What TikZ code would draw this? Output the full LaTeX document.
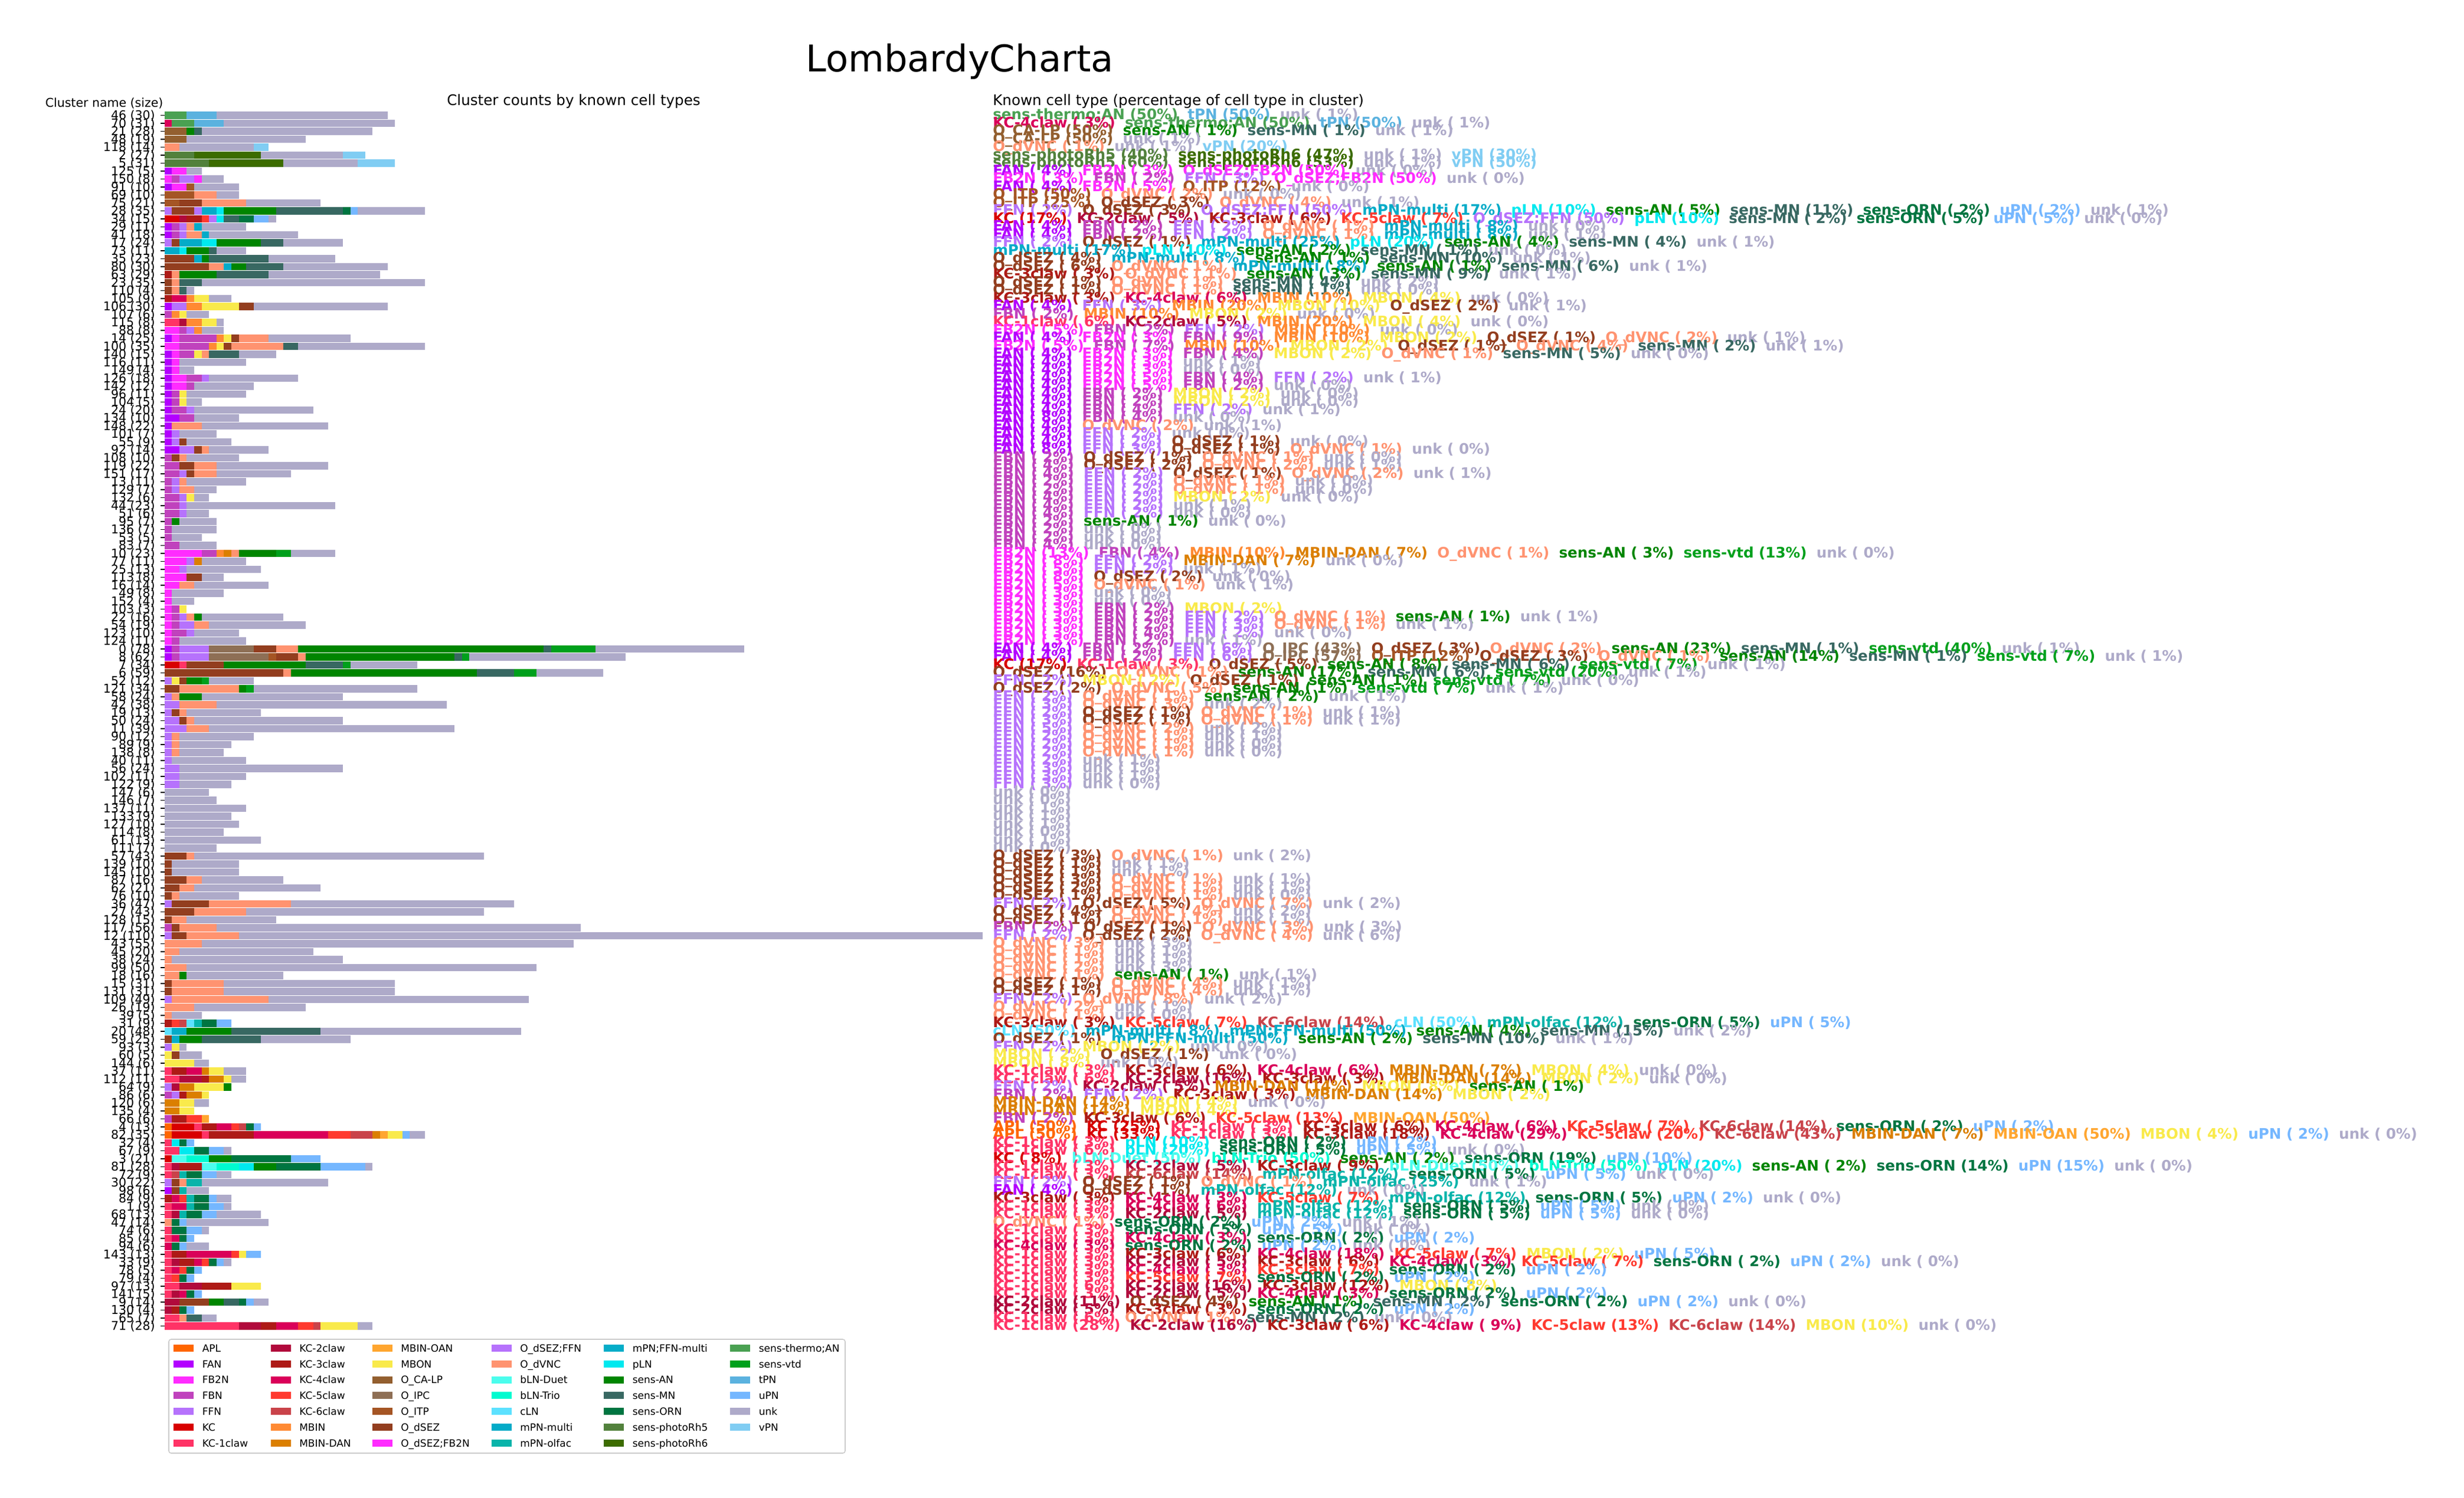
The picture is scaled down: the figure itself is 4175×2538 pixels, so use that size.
\documentclass[tikz,border=0pt]{standalone}
\usepackage{fontspec}
\setmainfont{DejaVu Sans}
\usepackage{xcolor}
\definecolor{cAPL}{HTML}{FF6600}
\definecolor{cFAN}{HTML}{B300FF}
\definecolor{cFBtN}{HTML}{FF2CFF}
\definecolor{cFBN}{HTML}{C042BD}
\definecolor{cFFN}{HTML}{B672FC}
\definecolor{cKC}{HTML}{D80000}
\definecolor{cKCa}{HTML}{FF3366}
\definecolor{cKCb}{HTML}{B10A3C}
\definecolor{cKCc}{HTML}{AE1A16}
\definecolor{cKCd}{HTML}{DA0059}
\definecolor{cKCe}{HTML}{FF3A2F}
\definecolor{cKCf}{HTML}{C9434A}
\definecolor{cMBIN}{HTML}{FF8A33}
\definecolor{cMBD}{HTML}{DB7F00}
\definecolor{cMBO}{HTML}{FFA630}
\definecolor{cMBON}{HTML}{F9EA4B}
\definecolor{cOCA}{HTML}{935F2F}
\definecolor{cOIPC}{HTML}{8E6F55}
\definecolor{cOITP}{HTML}{A55524}
\definecolor{cOdS}{HTML}{933E1F}
\definecolor{cOdSFB}{HTML}{FF2CFF}
\definecolor{cOdSFF}{HTML}{B672FC}
\definecolor{cOdV}{HTML}{FF9370}
\definecolor{cbLD}{HTML}{4BFDED}
\definecolor{cbLT}{HTML}{00FBD0}
\definecolor{ccLN}{HTML}{5CE1FF}
\definecolor{cmPNm}{HTML}{04ABC8}
\definecolor{cmPNo}{HTML}{08B4AA}
\definecolor{cmPNF}{HTML}{06ADC8}
\definecolor{cpLN}{HTML}{00E9EF}
\definecolor{csAN}{HTML}{008500}
\definecolor{csMN}{HTML}{386862}
\definecolor{csORN}{HTML}{007541}
\definecolor{csRa}{HTML}{52813C}
\definecolor{csRb}{HTML}{3C6C00}
\definecolor{csTh}{HTML}{4AA152}
\definecolor{csvtd}{HTML}{00A01C}
\definecolor{ctPN}{HTML}{5BB2DF}
\definecolor{cuPN}{HTML}{75B7FF}
\definecolor{cunk}{HTML}{AEAAC9}
\definecolor{cvPN}{HTML}{80CDF3}
\newcommand\E[3]{\textcolor{c#1}{#2 (#3\%)}\hspace{0.66em}}
\newcommand\qAPL[1]{\E{APL}{APL}{#1}}
\newcommand\qFAN[1]{\E{FAN}{FAN}{#1}}
\newcommand\qFBtN[1]{\E{FBtN}{FB2N}{#1}}
\newcommand\qFBN[1]{\E{FBN}{FBN}{#1}}
\newcommand\qFFN[1]{\E{FFN}{FFN}{#1}}
\newcommand\qKC[1]{\E{KC}{KC}{#1}}
\newcommand\qKCa[1]{\E{KCa}{KC-1claw}{#1}}
\newcommand\qKCb[1]{\E{KCb}{KC-2claw}{#1}}
\newcommand\qKCc[1]{\E{KCc}{KC-3claw}{#1}}
\newcommand\qKCd[1]{\E{KCd}{KC-4claw}{#1}}
\newcommand\qKCe[1]{\E{KCe}{KC-5claw}{#1}}
\newcommand\qKCf[1]{\E{KCf}{KC-6claw}{#1}}
\newcommand\qMBIN[1]{\E{MBIN}{MBIN}{#1}}
\newcommand\qMBD[1]{\E{MBD}{MBIN-DAN}{#1}}
\newcommand\qMBO[1]{\E{MBO}{MBIN-OAN}{#1}}
\newcommand\qMBON[1]{\E{MBON}{MBON}{#1}}
\newcommand\qOCA[1]{\E{OCA}{O\_CA-LP}{#1}}
\newcommand\qOIPC[1]{\E{OIPC}{O\_IPC}{#1}}
\newcommand\qOITP[1]{\E{OITP}{O\_ITP}{#1}}
\newcommand\qOdS[1]{\E{OdS}{O\_dSEZ}{#1}}
\newcommand\qOdSFB[1]{\E{OdSFB}{O\_dSEZ;FB2N}{#1}}
\newcommand\qOdSFF[1]{\E{OdSFF}{O\_dSEZ;FFN}{#1}}
\newcommand\qOdV[1]{\E{OdV}{O\_dVNC}{#1}}
\newcommand\qbLD[1]{\E{bLD}{bLN-Duet}{#1}}
\newcommand\qbLT[1]{\E{bLT}{bLN-Trio}{#1}}
\newcommand\qcLN[1]{\E{cLN}{cLN}{#1}}
\newcommand\qmPNm[1]{\E{mPNm}{mPN-multi}{#1}}
\newcommand\qmPNo[1]{\E{mPNo}{mPN-olfac}{#1}}
\newcommand\qmPNF[1]{\E{mPNF}{mPN;FFN-multi}{#1}}
\newcommand\qpLN[1]{\E{pLN}{pLN}{#1}}
\newcommand\qsAN[1]{\E{sAN}{sens-AN}{#1}}
\newcommand\qsMN[1]{\E{sMN}{sens-MN}{#1}}
\newcommand\qsORN[1]{\E{sORN}{sens-ORN}{#1}}
\newcommand\qsRa[1]{\E{sRa}{sens-photoRh5}{#1}}
\newcommand\qsRb[1]{\E{sRb}{sens-photoRh6}{#1}}
\newcommand\qsTh[1]{\E{sTh}{sens-thermo;AN}{#1}}
\newcommand\qsvtd[1]{\E{svtd}{sens-vtd}{#1}}
\newcommand\qtPN[1]{\E{tPN}{tPN}{#1}}
\newcommand\quPN[1]{\E{uPN}{uPN}{#1}}
\newcommand\qunk[1]{\E{unk}{unk}{#1}}
\newcommand\qvPN[1]{\E{vPN}{vPN}{#1}}
\tikzset{
  lbl/.style={anchor=base east,inner sep=0pt,font=\fontsize{5.125pt}{6pt}\selectfont},
  txt/.style={anchor=base west,inner sep=0pt,font=\fontsize{6.15pt}{7pt}\selectfont\bfseries},
  lgt/.style={anchor=base west,inner sep=0pt,font=\fontsize{4.25pt}{5pt}\selectfont},
  ytk/.style={line width=0.4pt,black}
}
\newcommand\R[4]{%
  \pgfmathsetmacro\yy{195.5+13.5*#1}%
  \gdef\xacc{0}%
  \foreach \c/\n in {#3}{%
    \pgfmathsetmacro\xnew{\xacc+\n}%
    \fill[c\c] ({278.5+12.6*\xacc},{\yy-6.2}) rectangle ({278.5+12.6*\xnew},{\yy+6.2});
    \global\let\xacc\xnew
  }%
  \draw[ytk] (271.5,\yy) -- (278.5,\yy);
  \node[lbl] (lab#1) at (263.5,\yy+7.4) {#2};
  \node[txt] (txt#1) at (1681.5,\yy+7) {#4};
}
\begin{document}
\begin{tikzpicture}[x=0.25pt,y=-0.25pt]
\useasboundingbox (0,0) rectangle (4175,2538);
\fill[white] (0,0) rectangle (4175,2538);
\node[anchor=base,inner sep=0pt,font=\fontsize{15.6pt}{18pt}\selectfont] (title) at (1626,122) {LombardyCharta};
\node[anchor=base west,inner sep=0pt,font=\fontsize{5.125pt}{6pt}\selectfont] (hname) at (76,181) {Cluster name (size)};
\node[anchor=base,inner sep=0pt,font=\fontsize{6.15pt}{7pt}\selectfont] (hcount) at (972,178) {Cluster counts by known cell types};
\node[anchor=base west,inner sep=0pt,font=\fontsize{6.15pt}{7pt}\selectfont] (htype) at (1681.5,178) {Known cell type (percentage of cell type in cluster)};
\R{0}{46 (30)}{sTh/3,tPN/4,unk/23}{\qsTh{50}\qtPN{50}\qunk{ 1}}
\R{1}{70 (31)}{KCd/1,sTh/3,tPN/4,unk/23}{\qKCd{ 3}\qsTh{50}\qtPN{50}\qunk{ 1}}
\R{2}{21 (28)}{OCA/3,sAN/1,sMN/1,unk/23}{\qOCA{50}\qsAN{ 1}\qsMN{ 1}\qunk{ 1}}
\R{3}{48 (19)}{OCA/3,unk/16}{\qOCA{50}\qunk{ 1}}
\R{4}{118 (14)}{OdV/2,unk/10,vPN/2}{\qOdV{ 1}\qunk{ 1}\qvPN{20}}
\R{5}{2 (27)}{sRa/4,sRb/9,unk/11,vPN/3}{\qsRa{40}\qsRb{47}\qunk{ 1}\qvPN{30}}
\R{6}{5 (31)}{sRa/6,sRb/10,unk/10,vPN/5}{\qsRa{60}\qsRb{53}\qunk{ 1}\qvPN{50}}
\R{7}{125 (5)}{FAN/1,FBtN/1,OdSFB/1,unk/2}{\qFAN{ 4}\qFBtN{ 3}\qOdSFB{50}\qunk{ 0}}
\R{8}{150 (8)}{FBtN/1,FBN/1,FFN/2,OdSFB/1,unk/3}{\qFBtN{ 3}\qFBN{ 2}\qFFN{ 3}\qOdSFB{50}\qunk{ 0}}
\R{9}{91 (10)}{FAN/1,FBtN/2,OITP/1,unk/6}{\qFAN{ 4}\qFBtN{ 5}\qOITP{12}\qunk{ 0}}
\R{10}{69 (10)}{OITP/4,OdV/3,unk/3}{\qOITP{50}\qOdV{ 2}\qunk{ 0}}
\R{11}{75 (21)}{OITP/2,OdS/3,OdV/6,unk/10}{\qOITP{25}\qOdS{ 3}\qOdV{ 4}\qunk{ 1}}
\R{12}{28 (35)}{FFN/1,OdS/3,OdSFF/1,mPNm/2,pLN/1,sAN/7,sMN/9,sORN/1,uPN/1,unk/9}{\qFFN{ 2}\qOdS{ 3}\qOdSFF{50}\qmPNm{17}\qpLN{10}\qsAN{ 5}\qsMN{11}\qsORN{ 2}\quPN{ 2}\qunk{ 1}}
\R{13}{34 (15)}{KC/2,KCb/1,KCc/2,KCe/1,OdSFF/1,pLN/1,sMN/2,sORN/2,uPN/2,unk/1}{\qKC{17}\qKCb{ 5}\qKCc{ 6}\qKCe{ 7}\qOdSFF{50}\qpLN{10}\qsMN{ 2}\qsORN{ 5}\quPN{ 5}\qunk{ 0}}
\R{14}{29 (11)}{FAN/1,FBN/1,FFN/1,OdV/1,mPNm/1,unk/6}{\qFAN{ 4}\qFBN{ 2}\qFFN{ 2}\qOdV{ 1}\qmPNm{ 8}\qunk{ 0}}
\R{15}{41 (18)}{FAN/1,FBN/1,FFN/1,OdV/2,mPNm/1,unk/12}{\qFAN{ 4}\qFBN{ 2}\qFFN{ 2}\qOdV{ 1}\qmPNm{ 8}\qunk{ 1}}
\R{16}{17 (24)}{FFN/1,OdS/1,mPNm/3,pLN/2,sAN/6,sMN/3,unk/8}{\qFFN{ 2}\qOdS{ 1}\qmPNm{25}\qpLN{20}\qsAN{ 4}\qsMN{ 4}\qunk{ 1}}
\R{17}{73 (11)}{mPNm/2,pLN/1,sAN/3,sMN/1,unk/4}{\qmPNm{17}\qpLN{10}\qsAN{ 2}\qsMN{ 1}\qunk{ 0}}
\R{18}{35 (23)}{OdS/4,mPNm/1,sAN/1,sMN/8,unk/9}{\qOdS{ 4}\qmPNm{ 8}\qsAN{ 1}\qsMN{10}\qunk{ 1}}
\R{19}{80 (30)}{OdS/6,OdV/2,mPNm/1,sAN/2,sMN/5,unk/14}{\qOdS{ 6}\qOdV{ 1}\qmPNm{ 8}\qsAN{ 1}\qsMN{ 6}\qunk{ 1}}
\R{20}{63 (29)}{KCc/1,OdV/1,sAN/5,sMN/7,unk/15}{\qKCc{ 3}\qOdV{ 1}\qsAN{ 3}\qsMN{ 9}\qunk{ 1}}
\R{21}{23 (35)}{OdS/1,OdV/1,sMN/3,unk/30}{\qOdS{ 1}\qOdV{ 1}\qsMN{ 4}\qunk{ 2}}
\R{22}{110 (4)}{OdS/1,OdV/1,sMN/1,unk/1}{\qOdS{ 1}\qOdV{ 1}\qsMN{ 1}\qunk{ 0}}
\R{23}{105 (9)}{KCc/1,KCd/2,MBIN/1,MBON/2,unk/3}{\qKCc{ 3}\qKCd{ 6}\qMBIN{10}\qMBON{ 4}\qunk{ 0}}
\R{24}{106 (30)}{FAN/1,FFN/2,MBIN/2,MBON/5,OdS/2,unk/18}{\qFAN{ 4}\qFFN{ 3}\qMBIN{20}\qMBON{10}\qOdS{ 2}\qunk{ 1}}
\R{25}{107 (6)}{FBN/1,MBIN/1,MBON/1,unk/3}{\qFBN{ 2}\qMBIN{10}\qMBON{ 2}\qunk{ 0}}
\R{26}{115 (8)}{KCa/2,KCb/1,MBIN/2,MBON/2,unk/1}{\qKCa{ 6}\qKCb{ 5}\qMBIN{20}\qMBON{ 4}\qunk{ 0}}
\R{27}{88 (8)}{FBtN/2,FBN/1,FFN/1,MBIN/1,unk/3}{\qFBtN{ 5}\qFBN{ 2}\qFFN{ 2}\qMBIN{10}\qunk{ 0}}
\R{28}{14 (25)}{FAN/1,FBtN/1,FBN/5,MBIN/1,MBON/1,OdS/1,OdV/4,unk/11}{\qFAN{ 4}\qFBtN{ 3}\qFBN{ 9}\qMBIN{10}\qMBON{ 2}\qOdS{ 1}\qOdV{ 2}\qunk{ 1}}
\R{29}{100 (35)}{FBtN/2,FBN/4,MBIN/1,MBON/1,OdS/1,OdV/7,sMN/2,unk/17}{\qFBtN{ 5}\qFBN{ 7}\qMBIN{10}\qMBON{ 2}\qOdS{ 1}\qOdV{ 4}\qsMN{ 2}\qunk{ 1}}
\R{30}{140 (15)}{FAN/1,FBtN/1,FBN/2,MBON/1,OdV/1,sMN/4,unk/5}{\qFAN{ 4}\qFBtN{ 3}\qFBN{ 4}\qMBON{ 2}\qOdV{ 1}\qsMN{ 5}\qunk{ 0}}
\R{31}{116 (11)}{FAN/1,FBtN/1,unk/9}{\qFAN{ 4}\qFBtN{ 3}\qunk{ 1}}
\R{32}{149 (4)}{FAN/1,FBtN/1,unk/2}{\qFAN{ 4}\qFBtN{ 3}\qunk{ 0}}
\R{33}{126 (18)}{FAN/1,FBtN/2,FBN/2,FFN/1,unk/12}{\qFAN{ 4}\qFBtN{ 5}\qFBN{ 4}\qFFN{ 2}\qunk{ 1}}
\R{34}{142 (12)}{FAN/1,FBtN/2,FBN/1,unk/8}{\qFAN{ 4}\qFBtN{ 5}\qFBN{ 2}\qunk{ 0}}
\R{35}{96 (11)}{FAN/1,FBN/1,MBON/1,unk/8}{\qFAN{ 4}\qFBN{ 2}\qMBON{ 2}\qunk{ 0}}
\R{36}{104 (5)}{FAN/1,FBN/1,MBON/1,unk/2}{\qFAN{ 4}\qFBN{ 2}\qMBON{ 2}\qunk{ 0}}
\R{37}{24 (20)}{FAN/1,FBN/2,FFN/1,unk/16}{\qFAN{ 4}\qFBN{ 4}\qFFN{ 2}\qunk{ 1}}
\R{38}{134 (10)}{FAN/2,FBN/2,unk/6}{\qFAN{ 8}\qFBN{ 4}\qunk{ 0}}
\R{39}{148 (22)}{FAN/1,OdV/4,unk/17}{\qFAN{ 4}\qOdV{ 2}\qunk{ 1}}
\R{40}{101 (7)}{FAN/1,FFN/1,unk/5}{\qFAN{ 4}\qFFN{ 2}\qunk{ 0}}
\R{41}{55 (9)}{FAN/1,FFN/1,OdS/1,unk/6}{\qFAN{ 4}\qFFN{ 2}\qOdS{ 1}\qunk{ 0}}
\R{42}{92 (14)}{FAN/2,FFN/2,OdS/1,OdV/1,unk/8}{\qFAN{ 8}\qFFN{ 3}\qOdS{ 1}\qOdV{ 1}\qunk{ 0}}
\R{43}{108 (10)}{FBN/1,OdS/1,OdV/1,unk/7}{\qFBN{ 2}\qOdS{ 1}\qOdV{ 1}\qunk{ 0}}
\R{44}{119 (22)}{FBN/2,OdS/2,OdV/3,unk/15}{\qFBN{ 4}\qOdS{ 2}\qOdV{ 2}\qunk{ 1}}
\R{45}{151 (17)}{FBN/2,FFN/1,OdS/1,OdV/3,unk/10}{\qFBN{ 4}\qFFN{ 2}\qOdS{ 1}\qOdV{ 2}\qunk{ 1}}
\R{46}{13 (11)}{FBN/1,FFN/1,OdV/1,unk/8}{\qFBN{ 2}\qFFN{ 2}\qOdV{ 1}\qunk{ 0}}
\R{47}{129 (7)}{FBN/1,FFN/1,OdV/2,unk/3}{\qFBN{ 2}\qFFN{ 2}\qOdV{ 1}\qunk{ 0}}
\R{48}{132 (6)}{FBN/2,FFN/1,MBON/1,unk/2}{\qFBN{ 4}\qFFN{ 2}\qMBON{ 2}\qunk{ 0}}
\R{49}{44 (23)}{FBN/2,FFN/1,unk/20}{\qFBN{ 4}\qFFN{ 2}\qunk{ 1}}
\R{50}{51 (6)}{FBN/2,FFN/1,unk/3}{\qFBN{ 4}\qFFN{ 2}\qunk{ 0}}
\R{51}{95 (7)}{FBN/1,sAN/1,unk/5}{\qFBN{ 2}\qsAN{ 1}\qunk{ 0}}
\R{52}{136 (7)}{FBN/1,unk/6}{\qFBN{ 2}\qunk{ 0}}
\R{53}{53 (5)}{FBN/1,unk/4}{\qFBN{ 2}\qunk{ 0}}
\R{54}{83 (7)}{FBN/2,unk/5}{\qFBN{ 4}\qunk{ 0}}
\R{55}{10 (23)}{FBtN/5,FBN/2,MBIN/1,MBD/1,OdV/1,sAN/5,svtd/2,unk/6}{\qFBtN{13}\qFBN{ 4}\qMBIN{10}\qMBD{ 7}\qOdV{ 1}\qsAN{ 3}\qsvtd{13}\qunk{ 0}}
\R{56}{77 (11)}{FBtN/3,FFN/1,MBD/1,unk/6}{\qFBtN{ 8}\qFFN{ 2}\qMBD{ 7}\qunk{ 0}}
\R{57}{25 (13)}{FBtN/2,FFN/1,unk/10}{\qFBtN{ 5}\qFFN{ 2}\qunk{ 1}}
\R{58}{113 (8)}{FBtN/3,OdS/2,unk/3}{\qFBtN{ 8}\qOdS{ 2}\qunk{ 0}}
\R{59}{16 (14)}{FBtN/2,OdV/2,unk/10}{\qFBtN{ 5}\qOdV{ 1}\qunk{ 1}}
\R{60}{49 (8)}{FBtN/1,unk/7}{\qFBtN{ 3}\qunk{ 0}}
\R{61}{152 (4)}{FBtN/1,unk/3}{\qFBtN{ 3}\qunk{ 0}}
\R{62}{103 (3)}{FBtN/1,FBN/1,MBON/1}{\qFBtN{ 3}\qFBN{ 2}\qMBON{ 2}}
\R{63}{22 (16)}{FBtN/1,FBN/1,FFN/1,OdV/1,sAN/1,unk/11}{\qFBtN{ 3}\qFBN{ 2}\qFFN{ 2}\qOdV{ 1}\qsAN{ 1}\qunk{ 1}}
\R{64}{54 (19)}{FBtN/1,FBN/1,FFN/2,OdV/2,unk/13}{\qFBtN{ 3}\qFBN{ 2}\qFFN{ 3}\qOdV{ 1}\qunk{ 1}}
\R{65}{123 (10)}{FBtN/1,FBN/2,FFN/1,unk/6}{\qFBtN{ 3}\qFBN{ 4}\qFFN{ 2}\qunk{ 0}}
\R{66}{124 (11)}{FBtN/1,FBN/1,unk/9}{\qFBtN{ 3}\qFBN{ 2}\qunk{ 1}}
\R{67}{0 (78)}{FAN/1,FBN/1,FFN/4,OIPC/6,OdS/3,OdV/3,sAN/33,sMN/1,svtd/6,unk/20}{\qFAN{ 4}\qFBN{ 2}\qFFN{ 6}\qOIPC{43}\qOdS{ 3}\qOdV{ 2}\qsAN{23}\qsMN{ 1}\qsvtd{40}\qunk{ 1}}
\R{68}{8 (62)}{FAN/1,FBN/1,FFN/4,OIPC/8,OITP/1,OdS/3,OdV/1,sAN/20,sMN/1,svtd/1,unk/21}{\qFAN{ 4}\qFBN{ 2}\qFFN{ 6}\qOIPC{57}\qOITP{12}\qOdS{ 3}\qOdV{ 1}\qsAN{14}\qsMN{ 1}\qsvtd{ 7}\qunk{ 1}}
\R{69}{7 (34)}{KC/2,KCa/1,OdS/5,sAN/11,sMN/5,svtd/1,unk/9}{\qKC{17}\qKCa{ 3}\qOdS{ 5}\qsAN{ 8}\qsMN{ 6}\qsvtd{ 7}\qunk{ 1}}
\R{70}{6 (59)}{OdS/16,OdV/1,sAN/25,sMN/5,svtd/3,unk/9}{\qOdS{16}\qOdV{ 1}\qsAN{17}\qsMN{ 6}\qsvtd{20}\qunk{ 1}}
\R{71}{52 (12)}{FFN/1,MBON/1,OdS/1,sAN/2,svtd/1,unk/6}{\qFFN{ 2}\qMBON{ 2}\qOdS{ 1}\qsAN{ 1}\qsvtd{ 7}\qunk{ 0}}
\R{72}{121 (34)}{OdS/2,OdV/8,sAN/1,svtd/1,unk/22}{\qOdS{ 2}\qOdV{ 5}\qsAN{ 1}\qsvtd{ 7}\qunk{ 1}}
\R{73}{58 (24)}{FFN/1,OdV/1,sAN/3,unk/19}{\qFFN{ 2}\qOdV{ 1}\qsAN{ 2}\qunk{ 1}}
\R{74}{42 (38)}{FFN/2,OdV/5,unk/31}{\qFFN{ 3}\qOdV{ 3}\qunk{ 2}}
\R{75}{19 (13)}{FFN/1,OdS/1,OdV/1,unk/10}{\qFFN{ 2}\qOdS{ 1}\qOdV{ 1}\qunk{ 1}}
\R{76}{50 (24)}{FFN/2,OdS/1,OdV/1,unk/20}{\qFFN{ 3}\qOdS{ 1}\qOdV{ 1}\qunk{ 1}}
\R{77}{11 (39)}{FFN/3,OdV/3,unk/33}{\qFFN{ 5}\qOdV{ 2}\qunk{ 2}}
\R{78}{90 (12)}{FFN/1,OdV/1,unk/10}{\qFFN{ 2}\qOdV{ 1}\qunk{ 1}}
\R{79}{89 (9)}{FFN/1,OdV/1,unk/7}{\qFFN{ 2}\qOdV{ 1}\qunk{ 0}}
\R{80}{138 (8)}{FFN/1,OdV/1,unk/6}{\qFFN{ 2}\qOdV{ 1}\qunk{ 0}}
\R{81}{40 (11)}{FFN/1,unk/10}{\qFFN{ 2}\qunk{ 1}}
\R{82}{56 (24)}{FFN/2,unk/22}{\qFFN{ 3}\qunk{ 1}}
\R{83}{102 (11)}{FFN/2,unk/9}{\qFFN{ 3}\qunk{ 1}}
\R{84}{122 (9)}{FFN/2,unk/7}{\qFFN{ 3}\qunk{ 0}}
\R{85}{147 (6)}{unk/6}{\qunk{ 0}}
\R{86}{146 (7)}{unk/7}{\qunk{ 0}}
\R{87}{137 (11)}{unk/11}{\qunk{ 1}}
\R{88}{133 (9)}{unk/9}{\qunk{ 1}}
\R{89}{127 (10)}{unk/10}{\qunk{ 1}}
\R{90}{114 (8)}{unk/8}{\qunk{ 0}}
\R{91}{61 (13)}{unk/13}{\qunk{ 1}}
\R{92}{111 (7)}{unk/7}{\qunk{ 0}}
\R{93}{57 (43)}{OdS/3,OdV/1,unk/39}{\qOdS{ 3}\qOdV{ 1}\qunk{ 2}}
\R{94}{139 (10)}{OdS/1,unk/9}{\qOdS{ 1}\qunk{ 1}}
\R{95}{145 (10)}{OdS/1,unk/9}{\qOdS{ 1}\qunk{ 1}}
\R{96}{87 (16)}{OdS/3,OdV/2,unk/11}{\qOdS{ 3}\qOdV{ 1}\qunk{ 1}}
\R{97}{62 (21)}{OdS/2,OdV/2,unk/17}{\qOdS{ 2}\qOdV{ 1}\qunk{ 1}}
\R{98}{76 (10)}{OdS/1,OdV/1,unk/8}{\qOdS{ 1}\qOdV{ 1}\qunk{ 0}}
\R{99}{36 (47)}{FFN/1,OdS/5,OdV/11,unk/30}{\qFFN{ 2}\qOdS{ 5}\qOdV{ 7}\qunk{ 2}}
\R{100}{27 (43)}{OdS/4,OdV/7,unk/32}{\qOdS{ 4}\qOdV{ 4}\qunk{ 2}}
\R{101}{128 (15)}{OdS/1,OdV/2,unk/12}{\qOdS{ 1}\qOdV{ 1}\qunk{ 1}}
\R{102}{117 (56)}{FBN/1,OdS/1,OdV/5,unk/49}{\qFBN{ 2}\qOdS{ 1}\qOdV{ 3}\qunk{ 3}}
\R{103}{12 (110)}{FFN/1,OdS/2,OdV/7,unk/100}{\qFFN{ 2}\qOdS{ 2}\qOdV{ 4}\qunk{ 6}}
\R{104}{43 (55)}{OdV/5,unk/50}{\qOdV{ 3}\qunk{ 3}}
\R{105}{45 (20)}{OdV/2,unk/18}{\qOdV{ 1}\qunk{ 1}}
\R{106}{38 (24)}{OdV/1,unk/23}{\qOdV{ 1}\qunk{ 1}}
\R{107}{99 (50)}{OdV/3,unk/47}{\qOdV{ 2}\qunk{ 3}}
\R{108}{18 (16)}{OdV/2,sAN/1,unk/13}{\qOdV{ 1}\qsAN{ 1}\qunk{ 1}}
\R{109}{15 (31)}{OdS/1,OdV/7,unk/23}{\qOdS{ 1}\qOdV{ 4}\qunk{ 1}}
\R{110}{131 (31)}{OdS/1,OdV/7,unk/23}{\qOdS{ 1}\qOdV{ 4}\qunk{ 1}}
\R{111}{109 (49)}{FFN/1,OdV/13,unk/35}{\qFFN{ 2}\qOdV{ 8}\qunk{ 2}}
\R{112}{26 (19)}{OdV/4,unk/15}{\qOdV{ 2}\qunk{ 1}}
\R{113}{39 (5)}{OdV/1,unk/4}{\qOdV{ 1}\qunk{ 0}}
\R{114}{31 (9)}{KCc/1,KCe/1,KCf/1,cLN/1,mPNo/1,sORN/2,uPN/2}{\qKCc{ 3}\qKCe{ 7}\qKCf{14}\qcLN{50}\qmPNo{12}\qsORN{ 5}\quPN{ 5}}
\R{115}{20 (48)}{cLN/1,mPNm/1,mPNF/1,sAN/6,sMN/12,unk/27}{\qcLN{50}\qmPNm{ 8}\qmPNF{50}\qsAN{ 4}\qsMN{15}\qunk{ 2}}
\R{116}{59 (25)}{OdS/1,mPNF/1,sAN/3,sMN/8,unk/12}{\qOdS{ 1}\qmPNF{50}\qsAN{ 2}\qsMN{10}\qunk{ 1}}
\R{117}{93 (3)}{FFN/1,MBON/1,unk/1}{\qFFN{ 2}\qMBON{ 2}\qunk{ 0}}
\R{118}{60 (5)}{MBON/1,OdS/1,unk/3}{\qMBON{ 2}\qOdS{ 1}\qunk{ 0}}
\R{119}{144 (6)}{MBON/4,unk/2}{\qMBON{ 8}\qunk{ 0}}
\R{120}{37 (11)}{KCa/1,KCc/2,KCd/2,MBD/1,MBON/2,unk/3}{\qKCa{ 3}\qKCc{ 6}\qKCd{ 6}\qMBD{ 7}\qMBON{ 4}\qunk{ 0}}
\R{121}{112 (11)}{KCa/2,KCb/3,KCc/1,MBD/2,MBON/1,unk/2}{\qKCa{ 6}\qKCb{16}\qKCc{ 3}\qMBD{14}\qMBON{ 2}\qunk{ 0}}
\R{122}{64 (9)}{FFN/1,KCb/1,MBD/2,MBON/4,sAN/1}{\qFFN{ 2}\qKCb{ 5}\qMBD{14}\qMBON{ 8}\qsAN{ 1}}
\R{123}{86 (6)}{FBN/1,FFN/1,KCc/1,MBD/2,MBON/1}{\qFBN{ 2}\qFFN{ 2}\qKCc{ 3}\qMBD{14}\qMBON{ 2}}
\R{124}{120 (6)}{MBD/2,MBON/2,unk/2}{\qMBD{14}\qMBON{ 4}\qunk{ 0}}
\R{125}{135 (4)}{MBD/2,MBON/2}{\qMBD{14}\qMBON{ 4}}
\R{126}{66 (6)}{FBN/1,KCc/2,KCe/2,MBO/1}{\qFBN{ 2}\qKCc{ 6}\qKCe{13}\qMBO{50}}
\R{127}{4 (13)}{APL/1,KC/3,KCa/1,KCc/2,KCd/2,KCe/1,KCf/1,sORN/1,uPN/1}{\qAPL{50}\qKC{25}\qKCa{ 3}\qKCc{ 6}\qKCd{ 6}\qKCe{ 7}\qKCf{14}\qsORN{ 2}\quPN{ 2}}
\R{128}{82 (35)}{APL/1,KC/4,KCa/1,KCc/6,KCd/10,KCe/3,KCf/3,MBD/1,MBO/1,MBON/2,uPN/1,unk/2}{\qAPL{50}\qKC{33}\qKCa{ 3}\qKCc{18}\qKCd{29}\qKCe{20}\qKCf{43}\qMBD{ 7}\qMBO{50}\qMBON{ 4}\quPN{ 2}\qunk{ 0}}
\R{129}{32 (4)}{KCa/1,pLN/1,sORN/1,uPN/1}{\qKCa{ 3}\qpLN{10}\qsORN{ 2}\quPN{ 2}}
\R{130}{67 (9)}{KCa/2,pLN/2,sORN/2,uPN/2,unk/1}{\qKCa{ 6}\qpLN{20}\qsORN{ 5}\quPN{ 5}\qunk{ 0}}
\R{131}{3 (21)}{KC/1,bLD/2,bLT/3,sAN/3,sORN/8,uPN/4}{\qKC{ 8}\qbLD{50}\qbLT{50}\qsAN{ 2}\qsORN{19}\quPN{10}}
\R{132}{81 (28)}{KCa/1,KCb/1,KCc/3,bLD/2,bLT/3,pLN/2,sAN/3,sORN/6,uPN/6,unk/1}{\qKCa{ 3}\qKCb{ 5}\qKCc{ 9}\qbLD{50}\qbLT{50}\qpLN{20}\qsAN{ 2}\qsORN{14}\quPN{15}\qunk{ 0}}
\R{133}{72 (9)}{KCa/1,KCf/1,mPNo/1,sORN/2,uPN/2,unk/2}{\qKCa{ 3}\qKCf{14}\qmPNo{12}\qsORN{ 5}\quPN{ 5}\qunk{ 0}}
\R{134}{30 (22)}{FFN/1,OdS/1,OdV/1,mPNo/2,unk/17}{\qFFN{ 2}\qOdS{ 1}\qOdV{ 1}\qmPNo{25}\qunk{ 1}}
\R{135}{98 (6)}{FAN/1,OdS/1,mPNo/1,unk/3}{\qFAN{ 4}\qOdS{ 1}\qmPNo{12}\qunk{ 0}}
\R{136}{84 (9)}{KCc/1,KCd/1,KCe/1,mPNo/1,sORN/2,uPN/1,unk/2}{\qKCc{ 3}\qKCd{ 3}\qKCe{ 7}\qmPNo{12}\qsORN{ 5}\quPN{ 2}\qunk{ 0}}
\R{137}{1 (9)}{KCa/1,KCd/2,mPNo/1,sORN/2,uPN/2,unk/1}{\qKCa{ 3}\qKCd{ 6}\qmPNo{12}\qsORN{ 5}\quPN{ 5}\qunk{ 0}}
\R{138}{68 (13)}{KCa/1,KCb/1,mPNo/1,sORN/2,uPN/2,unk/6}{\qKCa{ 3}\qKCb{ 5}\qmPNo{12}\qsORN{ 5}\quPN{ 5}\qunk{ 0}}
\R{139}{47 (14)}{OdV/1,sORN/1,uPN/1,unk/11}{\qOdV{ 1}\qsORN{ 2}\quPN{ 2}\qunk{ 1}}
\R{140}{74 (6)}{KCa/1,sORN/2,uPN/2,unk/1}{\qKCa{ 3}\qsORN{ 5}\quPN{ 5}\qunk{ 0}}
\R{141}{85 (4)}{KCa/1,KCd/1,sORN/1,uPN/1}{\qKCa{ 3}\qKCd{ 3}\qsORN{ 2}\quPN{ 2}}
\R{142}{94 (6)}{KCd/1,sORN/1,uPN/1,unk/3}{\qKCd{ 3}\qsORN{ 2}\quPN{ 2}\qunk{ 0}}
\R{143}{143 (13)}{KCa/1,KCc/2,KCd/6,KCe/1,MBON/1,uPN/2}{\qKCa{ 3}\qKCc{ 6}\qKCd{18}\qKCe{ 7}\qMBON{ 2}\quPN{ 5}}
\R{144}{33 (9)}{KCa/1,KCb/1,KCc/2,KCd/1,KCe/1,sORN/1,uPN/1,unk/1}{\qKCa{ 3}\qKCb{ 5}\qKCc{ 6}\qKCd{ 3}\qKCe{ 7}\qsORN{ 2}\quPN{ 2}\qunk{ 0}}
\R{145}{78 (5)}{KCa/1,KCd/1,KCe/1,sORN/1,uPN/1}{\qKCa{ 3}\qKCd{ 3}\qKCe{ 7}\qsORN{ 2}\quPN{ 2}}
\R{146}{79 (4)}{KCa/1,KCe/1,sORN/1,uPN/1}{\qKCa{ 3}\qKCe{ 7}\qsORN{ 2}\quPN{ 2}}
\R{147}{97 (13)}{KCa/2,KCb/3,KCc/4,MBON/4}{\qKCa{ 6}\qKCb{16}\qKCc{12}\qMBON{ 8}}
\R{148}{141 (5)}{KCa/1,KCb/1,KCd/1,sORN/1,uPN/1}{\qKCa{ 3}\qKCb{ 5}\qKCd{ 3}\qsORN{ 2}\quPN{ 2}}
\R{149}{9 (14)}{KCb/2,OdS/4,sAN/2,sMN/2,sORN/1,uPN/1,unk/2}{\qKCb{11}\qOdS{ 4}\qsAN{ 1}\qsMN{ 2}\qsORN{ 2}\quPN{ 2}\qunk{ 0}}
\R{150}{130 (4)}{KCb/1,KCc/1,sORN/1,uPN/1}{\qKCb{ 5}\qKCc{ 3}\qsORN{ 2}\quPN{ 2}}
\R{151}{65 (7)}{KCa/2,OdV/1,sMN/2,unk/2}{\qKCa{ 6}\qOdV{ 1}\qsMN{ 2}\qunk{ 0}}
\R{152}{71 (28)}{KCa/10,KCb/3,KCc/2,KCd/3,KCe/2,KCf/1,MBON/5,unk/2}{\qKCa{28}\qKCb{16}\qKCc{ 6}\qKCd{ 9}\qKCe{13}\qKCf{14}\qMBON{10}\qunk{ 0}}
% legend
\draw[draw=black!20,line width=0.4pt,rounded corners=1pt,fill=white] (286,2270) rectangle (1432,2463);
\foreach \c/\t [count=\k from 0] in {APL/APL,FAN/FAN,FBtN/FB2N,FBN/FBN,FFN/FFN,KC/KC,KCa/KC-1claw,KCb/KC-2claw,KCc/KC-3claw,KCd/KC-4claw,KCe/KC-5claw,KCf/KC-6claw,MBIN/MBIN,MBD/MBIN-DAN,MBO/MBIN-OAN,MBON/MBON,OCA/O\_CA-LP,OIPC/O\_IPC,OITP/O\_ITP,OdS/O\_dSEZ,OdSFB/O\_dSEZ;FB2N,OdSFF/O\_dSEZ;FFN,OdV/O\_dVNC,bLD/bLN-Duet,bLT/bLN-Trio,cLN/cLN,mPNm/mPN-multi,mPNo/mPN-olfac,mPNF/mPN;FFN-multi,pLN/pLN,sAN/sens-AN,sMN/sens-MN,sORN/sens-ORN,sRa/sens-photoRh5,sRb/sens-photoRh6,sTh/sens-thermo;AN,svtd/sens-vtd,tPN/tPN,uPN/uPN,unk/unk,vPN/vPN}{
  \pgfmathtruncatemacro\lc{floor(\k/7)}
  \pgfmathtruncatemacro\lr{mod(\k,7)}
  \pgfmathsetmacro\lx{{294,458.5,630.5,832.5,1023,1237}[\lc]}
  \pgfmathsetmacro\ly{2285+26.8*\lr}
  \fill[c\c] (\lx,\ly-6) rectangle (\lx+34,\ly+6);
  \node[lgt] (leg\k) at (\lx+48,\ly+6.2) {\t};
}
\end{tikzpicture}
\end{document}
